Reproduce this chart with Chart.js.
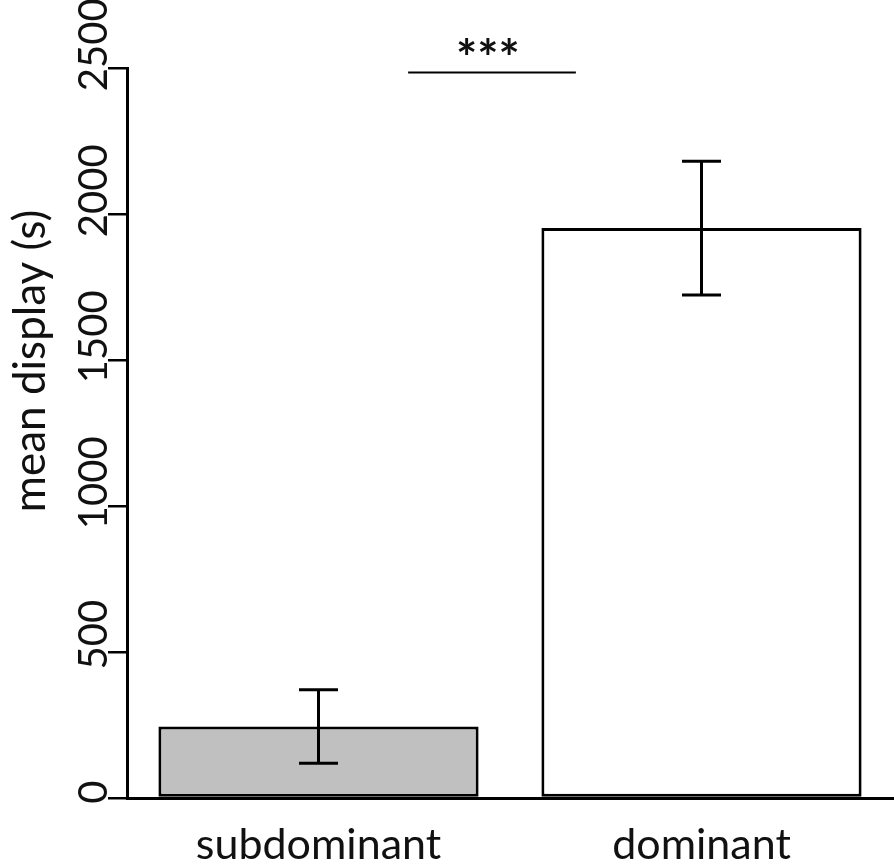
<!DOCTYPE html>
<html><head><meta charset="utf-8">
<script src="https://cdn.jsdelivr.net/npm/chart.js@4/dist/chart.umd.min.js"></script>
<style>html,body{margin:0;padding:0;background:#fff;}</style>
</head><body>
<canvas id="c" width="894" height="868"></canvas>
<script>
const categories = ['subdominant', 'dominant'];
const meanDisplay = [245, 1952];
const semDisplay = [126, 229];
const yTicks = [0, 500, 1000, 1500, 2000, 2500];
const barColors = ['#c0c0c0', '#ffffff'];
const yTitle = 'mean display (s)';
const sigLabel = '***';
const sigSpan = [0.234, 0.672]; // category-index units
const sigValue = 2485;

const FONT = 'Lato';
const TXT = '#111111';

const annot = {
  id: 'annot',
  afterDatasetsDraw(chart) {
    const ctx = chart.ctx, ys = chart.scales.y;
    const meta = chart.getDatasetMeta(0);
    ctx.save();
    ctx.strokeStyle = '#000'; ctx.lineWidth = 3;
    meta.data.forEach((bar, i) => {
      const x = bar.x;
      const yHi = ys.getPixelForValue(meanDisplay[i] + semDisplay[i]);
      const yLo = ys.getPixelForValue(meanDisplay[i] - semDisplay[i]);
      ctx.beginPath();
      ctx.moveTo(x, yHi); ctx.lineTo(x, yLo);
      ctx.moveTo(x - 19.5, yHi); ctx.lineTo(x + 19.5, yHi);
      ctx.moveTo(x - 19.5, yLo); ctx.lineTo(x + 19.5, yLo);
      ctx.stroke();
    });
    ctx.restore();
  },
  afterDraw(chart) {
    const ctx = chart.ctx, xs = chart.scales.x, ys = chart.scales.y;
    ctx.save();
    ctx.fillStyle = TXT;
    ctx.textBaseline = 'alphabetic';
    ctx.textAlign = 'center';
    // rotated y tick labels
    ctx.font = '40px ' + FONT;
    ys.ticks.forEach(t => {
      const label = String(t.value);
      const w = ctx.measureText(label).width;
      const py = ys.getPixelForValue(t.value);
      ctx.save();
      ctx.translate(107, py);
      ctx.rotate(-Math.PI / 2);
      ctx.fillText(label, 0.25 * w, 0);
      ctx.restore();
    });
    // y axis title
    ctx.font = '44px ' + FONT;
    ctx.save();
    ctx.translate(45, 361);
    ctx.rotate(-Math.PI / 2);
    ctx.fillText(yTitle, 0, 0);
    ctx.restore();
    // significance line
    const x1 = xs.getPixelForValue(sigSpan[0]);
    const x2 = xs.getPixelForValue(sigSpan[1]);
    const ly = ys.getPixelForValue(sigValue);
    ctx.strokeStyle = '#000'; ctx.lineWidth = 2;
    ctx.beginPath(); ctx.moveTo(x1, ly); ctx.lineTo(x2, ly); ctx.stroke();
    ctx.font = 'bold 50px ' + FONT;
    ctx.fillText(sigLabel, (x1 + x2) / 2 - 4, ly + 4);
    ctx.restore();
  }
};

new Chart(document.getElementById('c'), {
  type: 'bar',
  data: {
    labels: categories,
    datasets: [{
      data: meanDisplay,
      backgroundColor: barColors,
      borderColor: '#000',
      borderWidth: 3,
      borderSkipped: false,
      barPercentage: 0.836,
      categoryPercentage: 1
    }]
  },
  options: {
    responsive: false,
    animation: false,
    devicePixelRatio: 1,
    layout: { padding: { top: 68, right: 1, left: 0, bottom: 0 } },
    plugins: { legend: { display: false }, tooltip: { enabled: false } },
    scales: {
      x: {
        grid: { display: false, drawTicks: false },
        border: { display: true, color: '#000', width: 3 },
        ticks: { color: TXT, font: { family: FONT, size: 43 }, padding: 21, maxRotation: 0, autoSkip: false },
        afterFit: s => { s.height = 70; }
      },
      y: {
        min: 0, max: 2500,
        afterBuildTicks: s => { s.ticks = yTicks.map(v => ({ value: v })); },
        grid: { drawOnChartArea: false, drawTicks: true, tickLength: 19, color: '#000', lineWidth: 2.5 },
        border: { display: true, color: '#000', width: 3 },
        ticks: { display: false },
        afterFit: s => { s.width = 127; }
      }
    }
  },
  plugins: [annot]
});
</script>
</body></html>
